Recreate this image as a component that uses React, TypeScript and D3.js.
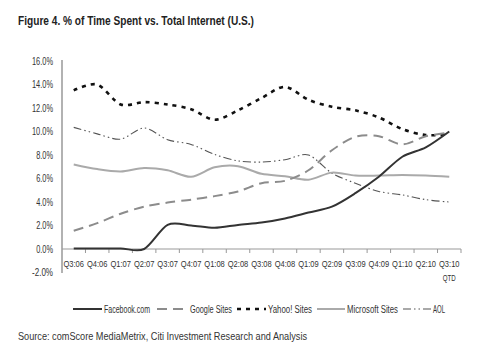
import React from "react";
import * as d3 from "d3";

const categories = ["Q3:06","Q4:06","Q1:07","Q2:07","Q3:07","Q4:07","Q1:08","Q2:08","Q3:08","Q4:08","Q1:09","Q2:09","Q3:09","Q4:09","Q1:10","Q2:10","Q3:10"];
const facebook = [0.05,0.05,0.05,0.0,2.05,2.0,1.8,2.05,2.25,2.6,3.1,3.6,4.75,6.15,7.85,8.65,10.0];
const google = [1.55,2.2,3.0,3.6,3.95,4.2,4.5,4.9,5.6,5.8,6.7,8.4,9.55,9.6,8.9,9.6,9.9];
const yahoo = [13.5,14.0,12.3,12.5,12.3,11.9,11.0,11.8,12.85,13.8,12.7,12.1,11.8,11.2,10.2,9.7,9.75];
const microsoft = [7.2,6.8,6.6,6.9,6.7,6.15,6.95,7.05,6.4,6.2,5.9,6.5,6.25,6.25,6.3,6.25,6.15];
const aol = [10.35,9.8,9.35,10.3,9.3,8.9,8.05,7.5,7.4,7.6,8.0,6.45,5.6,4.9,4.6,4.2,4.0];
const yTicks = [-2,0,2,4,6,8,10,12,14,16];

const FONT = "'Liberation Sans', Arial, sans-serif";

const seriesDefs = [
  { name: "Facebook.com", data: facebook, color: "#333333", width: 2, dash: "" },
  { name: "Google Sites", data: google, color: "#8c8c8c", width: 2, dash: "10,6" },
  { name: "Yahoo! Sites", data: yahoo, color: "#111111", width: 2.6, dash: "4,5" },
  { name: "Microsoft Sites", data: microsoft, color: "#aaaaaa", width: 2, dash: "" },
  { name: "AOL", data: aol, color: "#555555", width: 1.1, dash: "8,3,1.5,3,1.5,3" },
];

export default function App() {
  const W = 477, H = 355;
  const x = d3.scaleBand<string>().domain(categories).range([62, 461]);
  const y = d3.scaleLinear().domain([-2, 16]).range([272.5, 61]);
  const cx = (c: string) => (x(c) as number) + x.bandwidth() / 2;
  const line = d3.line<number>()
    .x((_, i) => cx(categories[i]))
    .y((v) => y(v))
    .curve(d3.curveCardinal.tension(0.1));

  const legendItems = [
    { lx: 73, tx: 104, tw: 46 },
    { lx: 157, tx: 190, tw: 42 },
    { lx: 237, tx: 268, tw: 44 },
    { lx: 317, tx: 347, tw: 51 },
    { lx: 403, tx: 433, tw: 12 },
  ];

  return (
    <svg width={W} height={H} style={{ position: "absolute", left: 0, top: 0, background: "#fff" }} fontFamily={FONT}>
      <text x={18} y={25} fontSize={13.5} fontWeight="bold" fill="#222" textLength={236} lengthAdjust="spacingAndGlyphs">Figure 4. % of Time Spent vs. Total Internet (U.S.)</text>
      {/* y axis */}
      <line x1={62} x2={62} y1={60} y2={273} stroke="#999" strokeWidth={1.5} />
      {yTicks.map((t) => {
        const label = t.toFixed(1) + "%";
        return (
          <text key={t} x={53} y={y(t)} dy="0.35em" textAnchor="end" fontSize={10} fill="#333" textLength={label.length * 4.2} lengthAdjust="spacingAndGlyphs">{label}</text>
        );
      })}
      {/* x axis at 0 */}
      <line x1={62} x2={461} y1={y(0)} y2={y(0)} stroke="#999" strokeWidth={1.2} />
      {categories.map((c) => (
        <line key={"t" + c} x1={(x(c) as number) + x.bandwidth()} x2={(x(c) as number) + x.bandwidth()} y1={y(0)} y2={y(0) + 4} stroke="#999" strokeWidth={1} />
      ))}
      {categories.map((c) => (
        <text key={c} x={cx(c)} y={266.5} textAnchor="middle" fontSize={8.2} fill="#333" textLength={20.5} lengthAdjust="spacingAndGlyphs">{c}</text>
      ))}
      <text x={cx(categories[categories.length - 1])} y={281} textAnchor="middle" fontSize={9} fill="#333" textLength={13} lengthAdjust="spacingAndGlyphs">QTD</text>
      {/* series */}
      {[...seriesDefs].reverse().map((s) => (
        <path key={s.name} d={line(s.data) || ""} fill="none" stroke={s.color} strokeWidth={s.width} strokeDasharray={s.dash} />
      ))}
      {/* legend */}
      {seriesDefs.map((s, i) => (
        <g key={"lg" + s.name}>
          <line x1={legendItems[i].lx} x2={legendItems[i].tx - 2} y1={309} y2={309} stroke={s.color} strokeWidth={s.width} strokeDasharray={s.dash} />
          <text x={legendItems[i].tx} y={312.5} fontSize={10} fill="#333" textLength={legendItems[i].tw} lengthAdjust="spacingAndGlyphs">{s.name}</text>
        </g>
      ))}
      <text x={18} y={339.5} fontSize={10.5} fill="#333" textLength={289} lengthAdjust="spacingAndGlyphs">Source: comScore MediaMetrix, Citi Investment Research and Analysis</text>
    </svg>
  );
}
